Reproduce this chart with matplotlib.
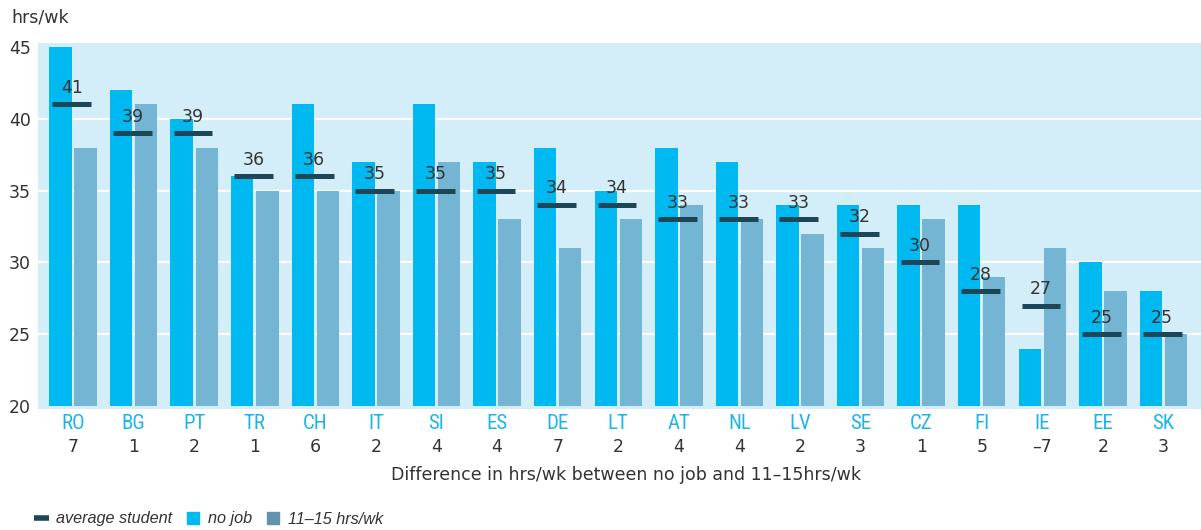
import numpy as np
import matplotlib
matplotlib.use("Agg")
import matplotlib.pyplot as plt
from matplotlib.lines import Line2D
from matplotlib import font_manager

# ---- data ----
countries = ["RO", "BG", "PT", "TR", "CH", "IT", "SI", "ES", "DE", "LT",
             "AT", "NL", "LV", "SE", "CZ", "FI", "IE", "EE", "SK"]
no_job = [45, 42, 40, 36, 41, 37, 41, 37, 38, 35, 38, 37, 34, 34, 34, 34, 24, 30, 28]
hrs_11_15 = [38, 41, 38, 35, 35, 35, 37, 33, 31, 33, 34, 33, 32, 31, 33, 29, 31, 28, 25]
avg_student = [41, 39, 39, 36, 36, 35, 35, 35, 34, 34, 33, 33, 33, 32, 30, 28, 27, 25, 25]
difference = ["7", "1", "2", "1", "6", "2", "4", "4", "7", "2",
              "4", "4", "2", "3", "1", "5", "\u20137", "2", "3"]

C_NOJOB = "#00B9F1"
C_1115 = "#74B5D3"
C_1115_LEG = "#6193AC"
C_AVG = "#1D4757"
C_BG = "#D4EEF9"
C_TXT = "#333333"

plt.rcParams["font.family"] = ["DejaVu Sans"]
FS = 12.5

# condensed face for the country codes, if one is around
installed = {f.name for f in font_manager.fontManager.ttflist}
code_family = next((n for n in ["Liberation Sans Narrow", "DejaVu Sans Condensed", "Roboto Condensed"]
                    if n in installed), "Liberation Sans")

fig = plt.figure(figsize=(12.01, 5.30), dpi=100)
ax = fig.add_axes([0.0316, 0.229, 0.9684, 0.690])
ax.set_facecolor(C_BG)

x = np.arange(len(countries))
base = 20
ax.bar(x - 0.207, np.array(no_job) - base, bottom=base, width=0.37, color=C_NOJOB, zorder=3)
ax.bar(x + 0.207, np.array(hrs_11_15) - base, bottom=base, width=0.37, color=C_1115, zorder=3)

# average student markers + labels
ax.hlines(avg_student, x - 0.34, x + 0.30, colors=C_AVG, linewidth=3.6, zorder=4)
for xi, v in zip(x, avg_student):
    ax.annotate(str(v), (xi - 0.02, v), xytext=(0, 5.5), textcoords="offset points",
                ha="center", va="bottom", fontsize=FS, color=C_TXT, zorder=5)

for g in [25, 30, 35, 40]:
    ax.axhline(g, color="white", linewidth=1.6, zorder=1)

ax.set_xlim(-0.58, 18.62)
ax.set_ylim(19.83, 45.28)
ax.set_yticks([20, 25, 30, 35, 40, 45])
ax.tick_params(axis="y", length=0, labelsize=FS, labelcolor=C_TXT, pad=5)
ax.set_xticks(x)
ax.set_xticklabels(countries, color="#1CB5EA", fontsize=15, family=code_family)
ax.tick_params(axis="x", length=0, pad=4)
for s in ax.spines.values():
    s.set_visible(False)

# difference row under country codes
for xi, d in zip(x, difference):
    ax.annotate(d, (xi, 0), xycoords=("data", "axes fraction"), xytext=(0, -27.5),
                textcoords="offset points", ha="center", va="center",
                fontsize=FS, color=C_TXT)

fig.text(626, 530 - 475, "Difference in hrs/wk between no job and 11\u201315hrs/wk",
         transform=None, ha="center", va="center", fontsize=FS, color=C_TXT)
fig.text(11, 530 - 18, "hrs/wk", transform=None, ha="left", va="center",
         fontsize=FS, color=C_TXT)

handles = [Line2D([0], [0], color=C_AVG, lw=4, solid_capstyle="butt"),
           Line2D([0], [0], color=C_NOJOB, marker="s", markersize=8.5, linestyle="none"),
           Line2D([0], [0], color=C_1115_LEG, marker="s", markersize=8.5, linestyle="none")]
labels = ["average student", "no job", "11\u201315 hrs/wk"]
leg = fig.legend(handles, labels, loc="center left", bbox_to_anchor=(34 / 1201, 11 / 530),
                 ncol=3, frameon=False, borderpad=0, borderaxespad=0,
                 handlelength=0.9, handletextpad=0.45, columnspacing=0.85,
                 prop={"family": "Liberation Sans", "style": "italic", "size": 11.7})
for t in leg.get_texts():
    t.set_color(C_TXT)

fig.savefig("out.png", dpi=100)
